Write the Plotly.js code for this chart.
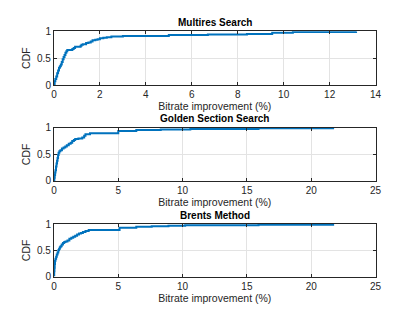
<!DOCTYPE html>
<html>
<head>
<meta charset="utf-8">
<script src="https://cdn.plot.ly/plotly-3.0.1.min.js"></script>
<style>
  body { margin: 0; background: #fff; }
  #plotArea { width: 415px; height: 322px; }
</style>
</head>
<body>
<div id="plotArea"></div>
<script>
// CDF curves (x = bitrate improvement %, y = CDF)
var multiresX = [0, 0.03, 0.06, 0.1, 0.14, 0.18, 0.22, 0.26, 0.3, 0.34, 0.38, 0.42, 0.46, 0.5, 0.54, 0.58, 0.8, 0.86, 0.92, 1.16, 1.2, 1.26, 1.4, 1.5, 1.6, 1.68, 1.8, 1.9, 2.0, 2.15, 2.3, 2.5, 3.0, 5.0, 6.7, 8.4, 9.5, 10.4, 13.15];
var multiresY = [0.02, 0.07, 0.11, 0.16, 0.22, 0.27, 0.32, 0.35, 0.38, 0.43, 0.48, 0.52, 0.56, 0.6, 0.63, 0.65, 0.67, 0.69, 0.71, 0.73, 0.75, 0.76, 0.78, 0.79, 0.81, 0.83, 0.84, 0.85, 0.87, 0.88, 0.89, 0.9, 0.91, 0.93, 0.94, 0.95, 0.97, 0.985, 1.0];

var goldenX = [0, 0.03, 0.06, 0.09, 0.12, 0.16, 0.2, 0.24, 0.28, 0.32, 0.36, 0.42, 0.5, 0.62, 0.75, 0.88, 1.0, 1.15, 1.3, 1.42, 1.55, 1.65, 1.9, 2.2, 2.35, 2.45, 2.8, 5.0, 6.4, 8.3, 10.6, 15.9, 21.7];
var goldenY = [0.02, 0.06, 0.11, 0.16, 0.2, 0.27, 0.33, 0.38, 0.43, 0.49, 0.53, 0.56, 0.58, 0.61, 0.63, 0.65, 0.67, 0.7, 0.72, 0.75, 0.77, 0.79, 0.8, 0.82, 0.85, 0.88, 0.9, 0.94, 0.96, 0.97, 0.98, 0.99, 1.0];

var brentsX = [0, 0.02, 0.04, 0.06, 0.08, 0.12, 0.17, 0.22, 0.28, 0.34, 0.4, 0.46, 0.52, 0.6, 0.7, 0.8, 0.9, 1.05, 1.2, 1.35, 1.5, 1.65, 1.8, 1.95, 2.1, 2.25, 2.45, 2.7, 5.1, 6.4, 7.6, 8.9, 10.2, 15.9, 21.7];
var brentsY = [0.02, 0.1, 0.17, 0.24, 0.3, 0.34, 0.38, 0.42, 0.46, 0.5, 0.53, 0.56, 0.58, 0.61, 0.64, 0.66, 0.67, 0.69, 0.72, 0.74, 0.76, 0.78, 0.8, 0.82, 0.83, 0.85, 0.87, 0.89, 0.93, 0.95, 0.96, 0.97, 0.98, 0.99, 1.0];

var titles = ["Multires Search", "Golden Section Search", "Brents Method"];
var xRanges = [[0, 14], [0, 25], [0, 25]];
var xDtick = [2, 5, 5];

var lineColor = "#0072BD";
var fontFam = "Liberation Sans, Arial, sans-serif";

function trace(x, y, n) {
  return {
    x: x, y: y, type: "scatter", mode: "lines",
    line: {color: lineColor, width: 2, shape: "hv"},
    xaxis: "x" + (n === 1 ? "" : n), yaxis: "y" + (n === 1 ? "" : n),
    hoverinfo: "skip", showlegend: false
  };
}

function xAxis(n) {
  return {
    domain: [0.130, 0.905], anchor: "y" + (n === 1 ? "" : n),
    range: xRanges[n - 1], dtick: xDtick[n - 1], tick0: 0,
    showline: true, mirror: "ticks", linecolor: "#262626", linewidth: 1,
    ticks: "inside", ticklen: 3, tickcolor: "#262626",
    showgrid: true, gridcolor: "#e3e3e3", zeroline: false,
    tickfont: {size: 10, color: "#262626", family: fontFam},
    title: {text: "Bitrate improvement (%)", standoff: 3, font: {size: 10.5, color: "#262626", family: fontFam}}
  };
}

function yAxis(n, domain) {
  return {
    domain: domain, anchor: "x" + (n === 1 ? "" : n),
    range: [0, 1], tickvals: [0, 0.5, 1], ticktext: ["0", "0.5", "1"],
    showline: true, mirror: "ticks", linecolor: "#262626", linewidth: 1,
    ticks: "inside", ticklen: 3, tickcolor: "#262626",
    showgrid: true, gridcolor: "#e3e3e3", zeroline: false,
    tickfont: {size: 10, color: "#262626", family: fontFam},
    title: {text: "CDF", standoff: 4, font: {size: 10.5, color: "#262626", family: fontFam}}
  };
}

var data = [
  trace(multiresX, multiresY, 1),
  trace(goldenX, goldenY, 2),
  trace(brentsX, brentsY, 3)
];

var yDomains = [[0.736, 0.903], [0.438, 0.603], [0.141, 0.304]];
var titleY = [1 - 23 / 322, 1 - 119 / 322, 1 - 215.5 / 322];

var annotations = titles.map(function (t, i) {
  return {
    text: "<b>" + t + "</b>", xref: "paper", yref: "paper",
    x: 0.5175, y: titleY[i], xanchor: "center", yanchor: "middle",
    showarrow: false, font: {size: 10, color: "#000", family: fontFam}
  };
});

var layout = {
  width: 415, height: 322,
  margin: {l: 0, r: 0, t: 0, b: 0},
  paper_bgcolor: "#fff", plot_bgcolor: "#fff",
  xaxis: xAxis(1), yaxis: yAxis(1, yDomains[0]),
  xaxis2: xAxis(2), yaxis2: yAxis(2, yDomains[1]),
  xaxis3: xAxis(3), yaxis3: yAxis(3, yDomains[2]),
  annotations: annotations
};

Plotly.newPlot("plotArea", data, layout, {staticPlot: true, displayModeBar: false});
</script>
</body>
</html>
